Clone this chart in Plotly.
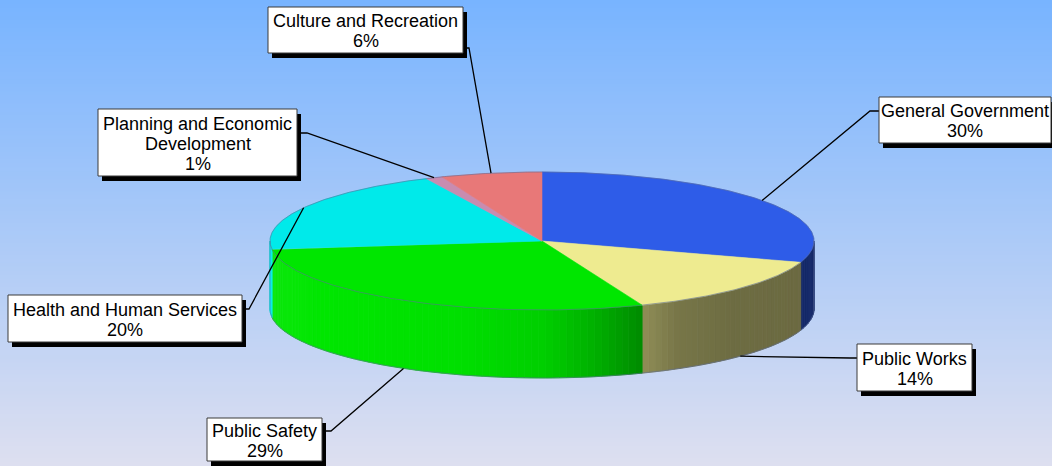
import numpy as np
import plotly.graph_objects as go

# ---- data -------------------------------------------------------------
categories = ["General Government", "Public Works", "Public Safety",
              "Health and Human Services", "Planning and Economic Development",
              "Culture and Recreation"]
shares = [30, 14, 29, 20, 1, 6]
label_lines = [["General Government"], ["Public Works"], ["Public Safety"],
               ["Health and Human Services"], ["Planning and Economic", "Development"],
               ["Culture and Recreation"]]
top_colors = ["#2E5CE8", "#EEEB90", "#00E600", "#00EAEA", "#C88CB0", "#E87878"]

# ---- layout of the drawing (pixel space) ------------------------------
W, H = 1052, 466
CX, CY = 542.0, 241.0      # centre of the top face
RX, RY = 272.0, 69.0       # ellipse radii of the top face
DEPTH = 68.0               # thickness of the disc

# label boxes: (x0, y0, x1, y1), elbow point, end point on box
label_boxes = [
    ((879, 97, 1051, 143), (870, 111), (879, 111)),
    ((857, 344, 972, 391), (850, 358), (857, 358)),
    ((207, 418, 322, 461), (331, 431), (322, 431)),
    ((8, 295, 242, 342), (249, 309), (242, 309)),
    ((98, 109, 297, 176), (307, 133), (297, 133)),
    ((268, 7, 463, 53), (469, 48), (463, 48)),
]
SHADOW_DX, SHADOW_DY = 4, 5
FONT = "Liberation Sans, Arial, sans-serif"


def hex_rgb(h):
    h = h.lstrip("#")
    return np.array([int(h[i:i + 2], 16) for i in (0, 2, 4)], dtype=float)


def rgb_str(c):
    c = np.clip(np.round(c), 0, 255).astype(int)
    return f"rgb({c[0]},{c[1]},{c[2]})"


def shade(hexc, t):
    """Side-wall colour: lit from the left, darker towards the right."""
    f = np.interp(t, [-1.0, -0.8, -0.3, 0.0, 0.2, 0.37, 0.5, 0.7, 1.0],
                  [1.05, 1.0, 0.97, 0.9, 0.76, 0.6, 0.5, 0.46, 0.45])
    base = hex_rgb(hexc)
    if f > 1:
        return rgb_str(base + (255 - base) * (f - 1))
    return rgb_str(base * f)


def rim(theta_deg, drop=0.0):
    th = np.radians(theta_deg)
    return CX + RX * np.sin(th), CY - RY * np.cos(th) + drop


fig = go.Figure()

# slice angles, clockwise from 12 o'clock
total = float(sum(shares))
ends = np.cumsum(shares) / total * 360.0
starts = np.concatenate([[0.0], ends[:-1]])

# ---- side walls (front half only: 90..270 deg) -------------------------
for s0, s1, col in zip(starts, ends, top_colors):
    lo, hi = max(s0, 90.0), min(s1, 270.0)
    if lo >= hi:
        continue
    n = max(1, int(np.ceil((hi - lo) / 1.5)))
    edges = np.linspace(lo, hi, n + 1)
    for e0, e1 in zip(edges[:-1], edges[1:]):
        th = np.linspace(e0, e1, 4)
        xt, yt = rim(th)
        xb, yb = rim(th[::-1], DEPTH)
        xs = np.concatenate([xt, xb, xt[:1]])
        ys = np.concatenate([yt, yb, yt[:1]])
        c = shade(col, np.sin(np.radians((e0 + e1) / 2)))
        fig.add_trace(go.Scatter(x=xs, y=ys, mode="lines", fill="toself",
                                 fillcolor=c, line=dict(color=c, width=0.8),
                                 hoverinfo="skip", showlegend=False))

# ---- top face -----------------------------------------------------------
for s0, s1, col, name in zip(starts, ends, top_colors, categories):
    th = np.linspace(s0, s1, max(3, int((s1 - s0) * 2)))
    xa, ya = rim(th)
    xs = np.concatenate([[CX], xa, [CX]])
    ys = np.concatenate([[CY], ya, [CY]])
    fig.add_trace(go.Scatter(x=xs, y=ys, mode="lines", fill="toself",
                             fillcolor=col, line=dict(color=col, width=0.6),
                             name=name, hoverinfo="skip", showlegend=False))

# ---- thin rim outline ----------------------------------------------------
th_all = np.linspace(0, 360, 721)
xo, yo = rim(th_all)
fig.add_trace(go.Scatter(x=xo, y=yo, mode="lines",
                         line=dict(color="rgba(90,105,150,0.55)", width=1),
                         hoverinfo="skip", showlegend=False))
th_front = np.linspace(90, 270, 361)
xf, yf = rim(th_front, DEPTH)
xl, yl = rim(np.array([270.0]))
xr, yr = rim(np.array([90.0]))
fig.add_trace(go.Scatter(x=np.concatenate([xr, xf, xl]),
                         y=np.concatenate([yr, yf, yl]), mode="lines",
                         line=dict(color="rgba(90,105,150,0.55)", width=1),
                         hoverinfo="skip", showlegend=False))

# ---- background gradient ---------------------------------------------
shapes = []
top_bg = np.array([120, 180, 255], dtype=float)
bot_bg = np.array([221, 223, 240], dtype=float)
nb = 117
for i in range(nb):
    f = i / (nb - 1)
    c = top_bg + (bot_bg - top_bg) * f
    shapes.append(dict(type="rect", xref="paper", yref="paper",
                       x0=0, x1=1, y0=1 - i / nb, y1=1 - (i + 1) / nb - 0.002,
                       fillcolor=rgb_str(c), line=dict(width=0), layer="below"))

# ---- leader lines, label boxes and texts -------------------------------
annotations = []
mids = (starts + ends) / 2
for (box, elbow, end), mid in zip(label_boxes, mids):
    front = np.cos(np.radians(mid)) < 0
    ax, ay = rim(np.array([mid]), DEPTH if front else 0.0)
    ax, ay = float(ax[0]), float(ay[0])
    shapes.append(dict(type="path",
                       path=f"M {ax:.1f},{ay:.1f} L {elbow[0]},{elbow[1]} L {end[0]},{end[1]}",
                       line=dict(color="black", width=1.3), layer="above"))

for (box, elbow, end), lines, share in zip(label_boxes, label_lines, shares):
    x0, y0, x1, y1 = box
    shapes.append(dict(type="rect", x0=x0 + SHADOW_DX, y0=y0 + SHADOW_DY,
                       x1=x1 + SHADOW_DX, y1=y1 + SHADOW_DY,
                       fillcolor="black", line=dict(width=0), layer="above"))
    shapes.append(dict(type="rect", x0=x0, y0=y0, x1=x1, y1=y1,
                       fillcolor="white", line=dict(color="#3a3a3a", width=1),
                       layer="above"))
    texts = list(lines) + [f"{share}%"]
    n = len(texts)
    yc = (y0 + y1) / 2 + 1
    for k, t in enumerate(texts):
        annotations.append(dict(x=(x0 + x1) / 2, y=yc + (k - (n - 1) / 2) * 20,
                                text=t, showarrow=False, xanchor="center",
                                yanchor="middle",
                                font=dict(family=FONT, size=18, color="#000000")))

fig.update_layout(
    width=W, height=H,
    margin=dict(l=0, r=0, t=0, b=0),
    paper_bgcolor="rgba(0,0,0,0)", plot_bgcolor="rgba(0,0,0,0)",
    xaxis=dict(range=[0, W], visible=False, fixedrange=True),
    yaxis=dict(range=[H, 0], visible=False, fixedrange=True),
    shapes=shapes, annotations=annotations, showlegend=False,
)

fig.write_html("out.html", config={"displayModeBar": False})
